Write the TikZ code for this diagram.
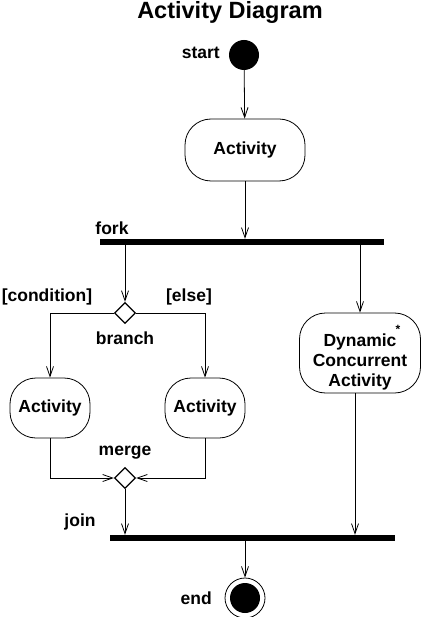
\documentclass[tikz,border=0pt]{standalone}
\usepackage{fontspec}
\setmainfont{Liberation Sans}
\usetikzlibrary{arrows.meta,shapes.geometric}
\begin{document}
\begin{tikzpicture}[x=1pt,y=-1pt,
  every node/.style={font=\fontsize{17.5}{20}\selectfont\bfseries},
  arr/.style={draw,line width=0.8pt,-{Straight Barb[length=10pt,width=7pt,line width=0.8pt]}},
  actbox/.style={draw,line width=0.8pt,rectangle,rounded corners=26pt,align=center,inner sep=0pt},
  bar/.style={fill=black,minimum height=6pt,inner sep=0pt},
  dia/.style={draw,diamond,line width=1.3pt,minimum size=21pt,inner sep=0pt},
  lbl/.style={inner sep=0pt}]
\useasboundingbox (0,0) rectangle (421,617);
\node[lbl,font=\fontsize{23.5}{26}\selectfont\bfseries] (title) at (230,12) {Activity Diagram};
\node[circle,fill=black,minimum size=30pt,inner sep=0pt] (start) at (244,55) {};
\node[lbl,anchor=east] (startl) at (220,53) {start};
\node[actbox,minimum width=120pt,minimum height=62pt] (act1) at (245,150) {Activity};
\node[bar,minimum width=284pt] (fork) at (242,242) {};
\node[lbl] (forkl) at (112,228) {fork};
\node[dia] (branch) at (125,313) {};
\node[lbl] (cond) at (47,297) {[condition]};
\node[lbl] (else) at (189,297) {[else]};
\node[lbl] (branchl) at (125,338) {branch};
\node[actbox,minimum width=80pt,minimum height=60pt] (actL) at (50,408) {Activity};
\node[actbox,minimum width=80pt,minimum height=60pt] (actR) at (205,408) {Activity};
\node[actbox,minimum width=121pt,minimum height=80pt] (dyn) at (360,353) {};
\node[lbl,align=center] (dyntext) at (360,362) {Dynamic\\Concurrent\\Activity};
\node[lbl,font=\fontsize{12}{12}\selectfont\bfseries] (star) at (398,329) {*};
\node[dia] (merge) at (125,478) {};
\node[lbl] (mergel) at (125,453) {merge};
\node[bar,minimum width=285pt] (join) at (252,538) {};
\node[lbl] (joinl) at (80,522) {join};
\node[circle,draw,line width=0.8pt,minimum size=40pt,inner sep=0pt] (endc) at (245,598) {};
\node[circle,fill=black,minimum size=30pt,inner sep=0pt] (endin) at (245,598) {};
\node[lbl,anchor=east] (endl) at (212,598) {end};
\coordinate (dynout) at (355,393);
\draw[arr] (start) -- (act1);
\draw[arr] (act1.south) -- (act1.south |- fork.north);
\draw[arr] (fork.south -| branch.north) -- (branch.north);
\draw[arr] (branch.west) -| (actL.north);
\draw[arr] (branch.east) -| (actR.north);
\draw[arr] (fork.south -| dyn.north) -- (dyn.north);
\draw[arr] (actL.south) |- (merge.west);
\draw[arr] (actR.south) |- (merge.east);
\draw[arr] (merge.south) -- (merge.south |- join.north);
\draw[arr] (dynout) -- (dynout |- join.north);
\draw[arr] (join.south -| endc.north) -- (endc.north);
\end{tikzpicture}
\end{document}
